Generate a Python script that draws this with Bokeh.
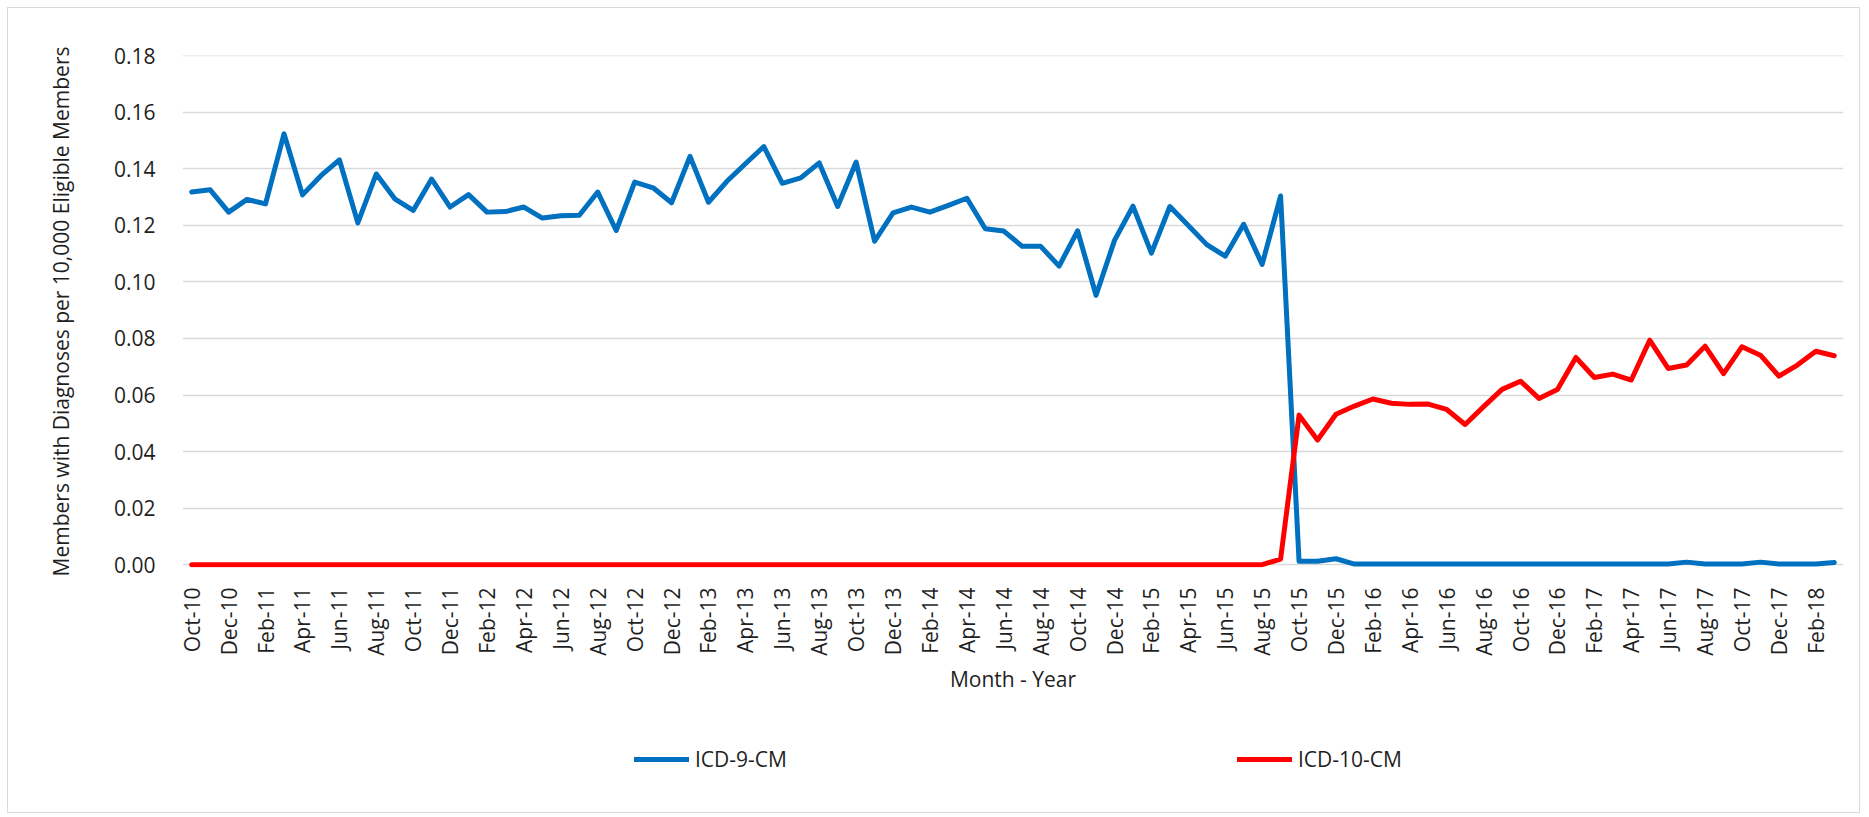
from bokeh.plotting import figure
from bokeh.layouts import column
from bokeh.models import Range1d, FixedTicker, NumeralTickFormatter, Legend, LegendItem
from bokeh.embed import file_html
from bokeh.resources import INLINE

months = [
    "Oct-10", "Nov-10", "Dec-10", "Jan-11", "Feb-11", "Mar-11", "Apr-11", "May-11", "Jun-11", "Jul-11",
    "Aug-11", "Sep-11", "Oct-11", "Nov-11", "Dec-11", "Jan-12", "Feb-12", "Mar-12", "Apr-12", "May-12",
    "Jun-12", "Jul-12", "Aug-12", "Sep-12", "Oct-12", "Nov-12", "Dec-12", "Jan-13", "Feb-13", "Mar-13",
    "Apr-13", "May-13", "Jun-13", "Jul-13", "Aug-13", "Sep-13", "Oct-13", "Nov-13", "Dec-13", "Jan-14",
    "Feb-14", "Mar-14", "Apr-14", "May-14", "Jun-14", "Jul-14", "Aug-14", "Sep-14", "Oct-14", "Nov-14",
    "Dec-14", "Jan-15", "Feb-15", "Mar-15", "Apr-15", "May-15", "Jun-15", "Jul-15", "Aug-15", "Sep-15",
    "Oct-15", "Nov-15", "Dec-15", "Jan-16", "Feb-16", "Mar-16", "Apr-16", "May-16", "Jun-16", "Jul-16",
    "Aug-16", "Sep-16", "Oct-16", "Nov-16", "Dec-16", "Jan-17", "Feb-17", "Mar-17", "Apr-17", "May-17",
    "Jun-17", "Jul-17", "Aug-17", "Sep-17", "Oct-17", "Nov-17", "Dec-17", "Jan-18", "Feb-18", "Mar-18",
]

icd9 = [
    0.1318, 0.1326, 0.1247, 0.1292, 0.1276, 0.1524, 0.1308, 0.1376, 0.1432, 0.1209,
    0.1382, 0.1294, 0.1253, 0.1364, 0.1265, 0.1309, 0.1247, 0.1249, 0.1265, 0.1226,
    0.1234, 0.1236, 0.1318, 0.1182, 0.1353, 0.1333, 0.1280, 0.1444, 0.1282, 0.1356,
    0.1418, 0.1479, 0.1349, 0.1368, 0.1421, 0.1267, 0.1424, 0.1144, 0.1244, 0.1265,
    0.1247, 0.1271, 0.1296, 0.1188, 0.1180, 0.1126, 0.1126, 0.1056, 0.1181, 0.0953,
    0.1147, 0.1268, 0.1102, 0.1267, 0.1200, 0.1132, 0.1091, 0.1204, 0.1062, 0.1304,
    0.0012, 0.0012, 0.0021, 0.0002, 0.0002, 0.0002, 0.0002, 0.0002, 0.0002, 0.0002,
    0.0002, 0.0002, 0.0002, 0.0002, 0.0002, 0.0002, 0.0002, 0.0002, 0.0002, 0.0002,
    0.0002, 0.0009, 0.0002, 0.0002, 0.0002, 0.0009, 0.0002, 0.0002, 0.0002, 0.0008,
]

icd10 = [
    0.0, 0.0, 0.0, 0.0, 0.0, 0.0, 0.0, 0.0, 0.0, 0.0,
    0.0, 0.0, 0.0, 0.0, 0.0, 0.0, 0.0, 0.0, 0.0, 0.0,
    0.0, 0.0, 0.0, 0.0, 0.0, 0.0, 0.0, 0.0, 0.0, 0.0,
    0.0, 0.0, 0.0, 0.0, 0.0, 0.0, 0.0, 0.0, 0.0, 0.0,
    0.0, 0.0, 0.0, 0.0, 0.0, 0.0, 0.0, 0.0, 0.0, 0.0,
    0.0, 0.0, 0.0, 0.0, 0.0, 0.0, 0.0, 0.0, 0.0, 0.0020,
    0.0529, 0.0441, 0.0532, 0.0561, 0.0586, 0.0571, 0.0567, 0.0568, 0.0549, 0.0496,
    0.0559, 0.0620, 0.0649, 0.0588, 0.0620, 0.0733, 0.0662, 0.0674, 0.0653, 0.0794,
    0.0694, 0.0706, 0.0773, 0.0676, 0.0771, 0.0741, 0.0667, 0.0706, 0.0755, 0.0739,
]

y_ticks = [0.00, 0.02, 0.04, 0.06, 0.08, 0.10, 0.12, 0.14, 0.16, 0.18]
series_names = ["ICD-9-CM", "ICD-10-CM"]
series_colors = ["#0070C0", "#FF0000"]

x = list(range(len(months)))
x_ticks = x[::2]

FONT = "Open Sans"
TXT = "#1f1f1f"
FS = "21px"
W = 1851

p = figure(
    width=W, height=700,
    output_backend="svg", toolbar_location=None,
    x_range=Range1d(-0.5, len(months) - 0.5),
    y_range=Range1d(-0.001, 0.1801),
    min_border_left=174, min_border_right=16,
    min_border_top=47, min_border_bottom=141,
)
p.outline_line_color = None
p.background_fill_color = "white"
p.border_fill_color = "white"

p.xgrid.grid_line_color = None
p.ygrid.grid_line_color = "#d9d9d9"
p.ygrid.grid_line_width = 1.5

# Y axis
p.yaxis.ticker = FixedTicker(ticks=y_ticks)
p.yaxis.formatter = NumeralTickFormatter(format="0.00")
p.yaxis.axis_line_color = None
p.yaxis.major_tick_line_color = None
p.yaxis.minor_tick_line_color = None
p.yaxis.major_label_standoff = 21
p.yaxis.major_label_text_font = FONT
p.yaxis.major_label_text_font_size = FS
p.yaxis.major_label_text_color = TXT
p.yaxis.axis_label = "Members with Diagnoses per 10,000 Eligible Members"
p.yaxis.axis_label_text_font = FONT
p.yaxis.axis_label_text_font_size = FS
p.yaxis.axis_label_text_font_style = "normal"
p.yaxis.axis_label_text_color = TXT
p.yaxis.axis_label_standoff = 36

# X axis
p.xaxis.ticker = FixedTicker(ticks=x_ticks)
p.xaxis.major_label_overrides = {i: months[i] for i in x_ticks}
p.xaxis.major_label_orientation = 3.14159265 / 2
p.xaxis.axis_line_color = None
p.xaxis.major_tick_line_color = None
p.xaxis.minor_tick_line_color = None
p.xaxis.major_label_standoff = 14
p.xaxis.major_label_text_font = FONT
p.xaxis.major_label_text_font_size = FS
p.xaxis.major_label_text_color = TXT
p.xaxis.axis_label = "Month - Year"
p.xaxis.axis_label_text_font = FONT
p.xaxis.axis_label_text_font_size = FS
p.xaxis.axis_label_text_font_style = "normal"
p.xaxis.axis_label_text_color = TXT
p.xaxis.axis_label_standoff = 6

p.line(x, icd9, line_color=series_colors[0], line_width=5, line_join="round", line_cap="round")
p.line(x, icd10, line_color=series_colors[1], line_width=5, line_join="round", line_cap="round")

# Legend strip below the chart (series drawn out of view so only the legend shows)
q = figure(
    width=W, height=104,
    output_backend="svg", toolbar_location=None,
    x_range=Range1d(0, 1), y_range=Range1d(1, 2),
    x_axis_location=None, y_axis_location=None,
    min_border_left=0, min_border_right=0, min_border_top=0, min_border_bottom=0,
)
q.outline_line_color = None
q.grid.visible = False
q.background_fill_color = "white"
q.border_fill_color = "white"

legend_x = [452, 1055]
for name, col, vals, lx in zip(series_names, series_colors, [icd9, icd10], legend_x):
    r = q.line(x, vals, line_color=col, line_width=5, line_cap="round")
    lg = Legend(items=[LegendItem(label=name, renderers=[r])], location=(lx, 39))
    lg.padding = 0
    lg.margin = 0
    lg.border_line_alpha = 0
    lg.background_fill_alpha = 0
    lg.glyph_width = 55
    lg.glyph_height = 20
    lg.label_standoff = 6
    lg.label_height = 20
    lg.label_text_font = FONT
    lg.label_text_font_size = FS
    lg.label_text_color = TXT
    q.add_layout(lg, "center")

layout = column(p, q, spacing=0)
layout.styles = {"border": "1px solid #d9d9d9", "margin-left": "7px", "margin-top": "7px"}

open("out.html", "w").write(file_html(layout, INLINE))
